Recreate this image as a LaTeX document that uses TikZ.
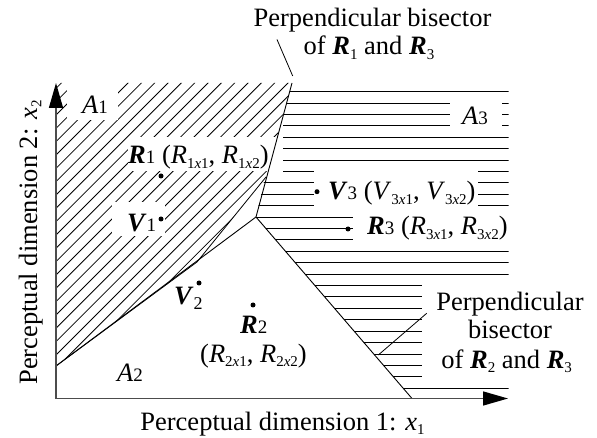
\documentclass[tikz,border=0pt]{standalone}
\usepackage{fontspec}
\setmainfont{Liberation Serif}
\usetikzlibrary{arrows.meta}
\newcommand{\dg}[1]{{\fontsize{19}{19}\selectfont #1}}
\newcommand{\lw}[1]{\raisebox{-0.35ex}{\fontsize{15}{15}\selectfont #1}}
\newcommand{\bR}{\textbf{\textit{R}}}
\newcommand{\bV}{\textbf{\textit{V}}}
\begin{document}
\begin{tikzpicture}[x=1pt,y=-1pt,
  font=\fontsize{26.5}{28.5}\selectfont,
  lbl/.style={inner sep=0pt, anchor=base west},
  clbl/.style={inner sep=0pt, anchor=base},
  hatchline/.style={line width=0.8pt},
  bisector/.style={line width=0.9pt},
  leader/.style={line width=0.8pt},
  gap/.style={fill=white, draw=none},
  axisline/.style={line width=1.4pt, draw=black!70, -{Triangle[length=25pt,width=14pt,color=black]}},
  dotmark/.style={circle, fill=black, inner sep=0pt, minimum size=5pt}]
\useasboundingbox (0,0) rectangle (597,438);

% key points
\coordinate (O) at (56,398.5);
\coordinate (Ytip) at (56,83);
\coordinate (Xtip) at (508,398.5);
\coordinate (T13) at (292,83);
\coordinate (T) at (256,217);
\coordinate (B23) at (412,398.5);
\coordinate (B12) at (56,366);

% region 1 diagonal hatching
\begin{scope}
  \clip (56,83) -- (292,83) -- (266,177) -- (197,262) -- (56,366) -- cycle;
  \foreach \k in {-3,...,24} {
    \pgfmathsetmacro\cc{171+13.33*\k}
    \draw[hatchline] (\cc,0) -- (\cc-460,460);
  }
\end{scope}
\draw[leader] (266,177) -- (197,262) -- (B12);

% region 3 horizontal hatching
\begin{scope}
  \clip (292,83) -- (508.5,83) -- (508.5,398.5) -- (412,398.5) -- (256,217)
        -- (265,177) -- (283,177) -- (283,115) -- cycle;
  \foreach \k in {0,...,26} {
    \pgfmathsetmacro\yy{91.7+11.4*\k}
    \draw[hatchline] (240,\yy) -- (510,\yy);
  }
\end{scope}

% gaps in the hatching for the texts
\fill[gap] (67,80) rectangle (118,120);
\fill[gap] (128,137) rectangle (282,171);
\fill[gap] (112,202) rectangle (165,236);
\fill[gap] (450,98) rectangle (502,131);
\fill[gap] (314,166) rectangle (478,211);
\fill[gap] (353,211) rectangle (510,245);
\fill[gap] (422,280) rectangle (510,382);

% bisectors
\draw[bisector] (T13) -- (T);
\draw[bisector] (T) -- (B23);
\draw[bisector] (T) -- (B12);

% axes
\draw[axisline] (O) -- (Ytip);
\draw[axisline] (O) -- (Xtip);

% points
\node[dotmark] (r1) at (161,176) {};
\node[dotmark] (v1) at (161,219) {};
\node[dotmark] (v2) at (199,283) {};
\node[dotmark] (r2) at (253,305) {};
\node[dotmark] (v3) at (317,191.7) {};
\node[dotmark] (r3) at (348,229) {};

% region labels
\node[lbl] (a1) at (82,114) {\textit{A}\dg{1}};
\node[lbl] (a2) at (117,381.5) {\textit{A}\dg{2}};
\node[lbl] (a3) at (462,125) {\textit{A}\dg{3}};

% point labels
\node[lbl] (r1l) at (128,164) {\bR\dg{1} (\textit{R}\lw{1\textit{x}1}, \textit{R}\lw{1\textit{x}2})};
\node[lbl] (v1l) at (127,231.5) {\bV\dg{1}};
\node[lbl] (v2l) at (174,305) {\bV\lw{\fontsize{18}{18}\selectfont 2}};
\node[lbl] (r2l) at (240,333.5) {\bR\dg{2}};
\node[lbl] (r2c) at (200,362) {(\textit{R}\lw{2\textit{x}1}, \textit{R}\lw{2\textit{x}2})};
\node[lbl] (v3l) at (328,200) {\bV\dg{3} (\textit{V}\lw{3\textit{x}1}, \textit{V}\lw{3\textit{x}2})};
\node[lbl] (r3l) at (367,235) {\bR\dg{3} (\textit{R}\lw{3\textit{x}1}, \textit{R}\lw{3\textit{x}2})};

% bisector labels
\node[clbl] (p1a) at (372.5,26.7) {Perpendicular bisector};
\node[clbl] (p1b) at (369,55) {of \bR\lw{1} and \bR\lw{3}};
\coordinate (L1a) at (277,39.5);
\coordinate (L1b) at (292.7,76);
\draw[leader] (L1a) -- (L1b);

\node[clbl] (p2a) at (510,310.7) {Perpendicular};
\node[clbl] (p2b) at (510,338) {bisector};
\node[clbl] (p2c) at (506.7,368.3) {of \bR\lw{2} and \bR\lw{3}};
\coordinate (L2a) at (426.7,313.3);
\coordinate (L2b) at (378.3,355);
\draw[leader] (L2a) -- (L2b);

% axis labels
\node[clbl] (xl) at (282.5,430) {Perceptual dimension 1: \textit{x}\lw{1}};
\node[clbl, rotate=90] (yl) at (37,242.5) {Perceptual dimension 2: \textit{x}\lw{2}};
\end{tikzpicture}
\end{document}
